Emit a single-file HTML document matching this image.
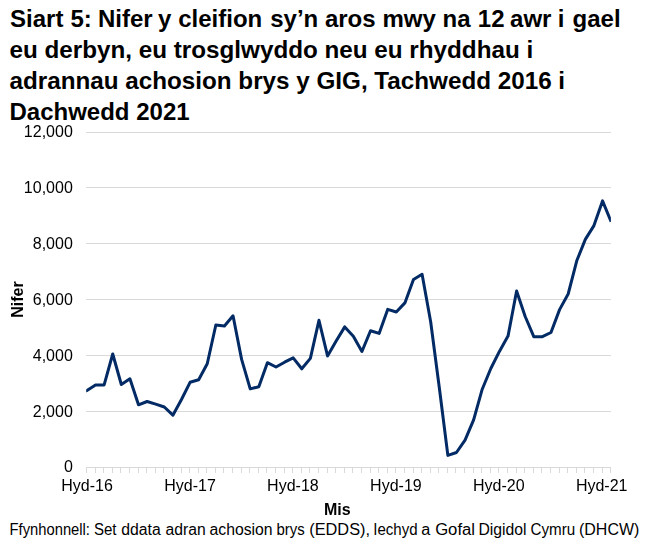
<!DOCTYPE html>
<html><head><meta charset="utf-8"><style>
html,body{margin:0;padding:0;background:#fff;overflow:hidden;}
svg{display:block;position:absolute;left:0;top:0;}
text{font-family:"Liberation Sans",sans-serif;fill:#000;}
</style></head><body>
<svg width="650" height="550" viewBox="0 0 650 550">
<rect width="650" height="550" fill="#fff"/>
<g font-size="24" font-weight="bold"><text x="10.1" y="26.6">Siart</text><text x="70.4" y="26.6">5:</text><text x="97.9" y="26.6">Nifer</text><text x="158.0" y="26.6">y</text><text x="178.2" y="26.6">cleifion</text><text x="270.2" y="26.6">sy’n</text><text x="324.9" y="26.6">aros</text><text x="382.4" y="26.6">mwy</text><text x="442.5" y="26.6">na</text><text x="477.8" y="26.6">12</text><text x="510.1" y="26.6">awr</text><text x="557.7" y="26.6">i</text><text x="572.6" y="26.6">gael</text><text x="9.5" y="58.3" textLength="523.7" lengthAdjust="spacingAndGlyphs">eu derbyn, eu trosglwyddo neu eu rhyddhau i</text><text x="9.5" y="88.9" textLength="555.6" lengthAdjust="spacingAndGlyphs">adrannau achosion brys y GIG, Tachwedd 2016 i</text><text x="9.5" y="119.7">Dachwedd 2021</text></g>
<g stroke="#d9d9d9" stroke-width="1" shape-rendering="crispEdges"><line x1="86" y1="132.5" x2="611" y2="132.5"/><line x1="86" y1="187.5" x2="611" y2="187.5"/><line x1="86" y1="243.5" x2="611" y2="243.5"/><line x1="86" y1="299.5" x2="611" y2="299.5"/><line x1="86" y1="355.5" x2="611" y2="355.5"/><line x1="86" y1="411.5" x2="611" y2="411.5"/><line x1="86" y1="467.5" x2="611" y2="467.5"/><line x1="86.5" y1="467" x2="86.5" y2="473"/><line x1="95.5" y1="467" x2="95.5" y2="473"/><line x1="103.5" y1="467" x2="103.5" y2="473"/><line x1="112.5" y1="467" x2="112.5" y2="473"/><line x1="120.5" y1="467" x2="120.5" y2="473"/><line x1="129.5" y1="467" x2="129.5" y2="473"/><line x1="138.5" y1="467" x2="138.5" y2="473"/><line x1="146.5" y1="467" x2="146.5" y2="473"/><line x1="155.5" y1="467" x2="155.5" y2="473"/><line x1="163.5" y1="467" x2="163.5" y2="473"/><line x1="172.5" y1="467" x2="172.5" y2="473"/><line x1="181.5" y1="467" x2="181.5" y2="473"/><line x1="189.5" y1="467" x2="189.5" y2="473"/><line x1="198.5" y1="467" x2="198.5" y2="473"/><line x1="206.5" y1="467" x2="206.5" y2="473"/><line x1="215.5" y1="467" x2="215.5" y2="473"/><line x1="223.5" y1="467" x2="223.5" y2="473"/><line x1="232.5" y1="467" x2="232.5" y2="473"/><line x1="241.5" y1="467" x2="241.5" y2="473"/><line x1="249.5" y1="467" x2="249.5" y2="473"/><line x1="258.5" y1="467" x2="258.5" y2="473"/><line x1="266.5" y1="467" x2="266.5" y2="473"/><line x1="275.5" y1="467" x2="275.5" y2="473"/><line x1="284.5" y1="467" x2="284.5" y2="473"/><line x1="292.5" y1="467" x2="292.5" y2="473"/><line x1="301.5" y1="467" x2="301.5" y2="473"/><line x1="309.5" y1="467" x2="309.5" y2="473"/><line x1="318.5" y1="467" x2="318.5" y2="473"/><line x1="327.5" y1="467" x2="327.5" y2="473"/><line x1="335.5" y1="467" x2="335.5" y2="473"/><line x1="344.5" y1="467" x2="344.5" y2="473"/><line x1="352.5" y1="467" x2="352.5" y2="473"/><line x1="361.5" y1="467" x2="361.5" y2="473"/><line x1="370.5" y1="467" x2="370.5" y2="473"/><line x1="378.5" y1="467" x2="378.5" y2="473"/><line x1="387.5" y1="467" x2="387.5" y2="473"/><line x1="395.5" y1="467" x2="395.5" y2="473"/><line x1="404.5" y1="467" x2="404.5" y2="473"/><line x1="413.5" y1="467" x2="413.5" y2="473"/><line x1="421.5" y1="467" x2="421.5" y2="473"/><line x1="430.5" y1="467" x2="430.5" y2="473"/><line x1="438.5" y1="467" x2="438.5" y2="473"/><line x1="447.5" y1="467" x2="447.5" y2="473"/><line x1="455.5" y1="467" x2="455.5" y2="473"/><line x1="464.5" y1="467" x2="464.5" y2="473"/><line x1="473.5" y1="467" x2="473.5" y2="473"/><line x1="481.5" y1="467" x2="481.5" y2="473"/><line x1="490.5" y1="467" x2="490.5" y2="473"/><line x1="498.5" y1="467" x2="498.5" y2="473"/><line x1="507.5" y1="467" x2="507.5" y2="473"/><line x1="516.5" y1="467" x2="516.5" y2="473"/><line x1="524.5" y1="467" x2="524.5" y2="473"/><line x1="533.5" y1="467" x2="533.5" y2="473"/><line x1="541.5" y1="467" x2="541.5" y2="473"/><line x1="550.5" y1="467" x2="550.5" y2="473"/><line x1="559.5" y1="467" x2="559.5" y2="473"/><line x1="567.5" y1="467" x2="567.5" y2="473"/><line x1="576.5" y1="467" x2="576.5" y2="473"/><line x1="584.5" y1="467" x2="584.5" y2="473"/><line x1="593.5" y1="467" x2="593.5" y2="473"/><line x1="602.5" y1="467" x2="602.5" y2="473"/><line x1="610.5" y1="467" x2="610.5" y2="473"/></g>

<text x="9.58" y="534.5" font-size="16" textLength="80.4" lengthAdjust="spacingAndGlyphs">Ffynhonnell:</text><text x="93.96" y="534.5" font-size="16" textLength="22.55" lengthAdjust="spacingAndGlyphs">Set</text><text x="121.32" y="534.5" font-size="16" textLength="39.43" lengthAdjust="spacingAndGlyphs">ddata</text><text x="165.52" y="534.5" font-size="16" textLength="40.08" lengthAdjust="spacingAndGlyphs">adran</text><text x="209.51" y="534.5" font-size="16" textLength="63.12" lengthAdjust="spacingAndGlyphs">achosion</text><text x="276.47" y="534.5" font-size="16" textLength="28.25" lengthAdjust="spacingAndGlyphs">brys</text><text x="309.28" y="534.5" font-size="16" textLength="60.71" lengthAdjust="spacingAndGlyphs">(EDDS),</text><text x="373.26" y="534.5" font-size="16" textLength="44.31" lengthAdjust="spacingAndGlyphs">Iechyd</text><text x="421.29" y="534.5" font-size="16" textLength="9.02" lengthAdjust="spacingAndGlyphs">a</text><text x="435.16" y="534.5" font-size="16" textLength="39.84" lengthAdjust="spacingAndGlyphs">Gofal</text><text x="478.52" y="534.5" font-size="16" textLength="48.09" lengthAdjust="spacingAndGlyphs">Digidol</text><text x="530.55" y="534.5" font-size="16" textLength="44.7" lengthAdjust="spacingAndGlyphs">Cymru</text><text x="579.0" y="534.5" font-size="16" textLength="60.32" lengthAdjust="spacingAndGlyphs">(DHCW)</text>
<clipPath id="pc"><rect x="86.2" y="0" width="524.6999999999999" height="550"/></clipPath><polyline clip-path="url(#pc)" points="85.66,391.22 86.95,390.40 95.54,384.90 104.14,384.90 112.73,354.00 121.32,384.50 129.92,378.80 138.51,404.80 147.10,401.50 155.69,404.10 164.29,407.00 172.88,415.20 181.47,399.50 190.07,382.30 198.66,379.80 207.25,363.80 215.85,325.00 224.44,326.00 233.03,315.80 241.62,359.40 250.22,388.90 258.81,386.70 267.40,362.70 276.00,367.00 284.59,362.20 293.18,357.90 301.77,368.80 310.37,358.40 318.96,320.30 327.55,355.90 336.15,341.10 344.74,326.90 353.33,336.30 361.93,351.50 370.52,330.80 379.11,333.40 387.70,309.40 396.30,312.00 404.89,302.90 413.48,279.50 422.08,274.30 430.67,321.80 439.26,387.20 447.86,455.40 456.45,452.50 465.04,440.10 473.63,419.80 482.23,389.20 490.82,368.50 499.41,351.40 508.01,336.10 516.60,291.00 525.19,316.50 533.79,336.70 542.38,336.70 550.97,332.50 559.57,309.60 568.16,294.00 576.75,260.80 585.34,239.40 593.94,225.60 602.53,200.90 611.12,221.60" fill="none" stroke="#022a65" stroke-width="3.0" stroke-linejoin="round" stroke-linecap="butt"/>
</svg>
<div style="position:absolute;left:0;top:0;width:650px;height:550px;will-change:transform"><svg width="650" height="550" viewBox="0 0 650 550"><g font-size="16"><text x="72.8" y="472.3" text-anchor="end">0</text><text x="72.8" y="416.5" text-anchor="end">2,000</text><text x="72.8" y="360.6" text-anchor="end">4,000</text><text x="72.8" y="304.8" text-anchor="end">6,000</text><text x="72.8" y="249.0" text-anchor="end">8,000</text><text x="72.8" y="193.2" text-anchor="end">10,000</text><text x="72.8" y="137.3" text-anchor="end">12,000</text><text x="87.1" y="490.7" text-anchor="middle">Hyd-16</text><text x="190.0" y="490.7" text-anchor="middle">Hyd-17</text><text x="292.9" y="490.7" text-anchor="middle">Hyd-18</text><text x="395.9" y="490.7" text-anchor="middle">Hyd-19</text><text x="498.8" y="490.7" text-anchor="middle">Hyd-20</text><text x="601.7" y="490.7" text-anchor="middle">Hyd-21</text></g>
<text x="0" y="0" font-size="16" font-weight="bold" transform="translate(23.2,317.8) rotate(-90)">Nifer</text>
<text x="324" y="514.9" font-size="16" font-weight="bold">Mis</text></svg></div>
</body></html>
